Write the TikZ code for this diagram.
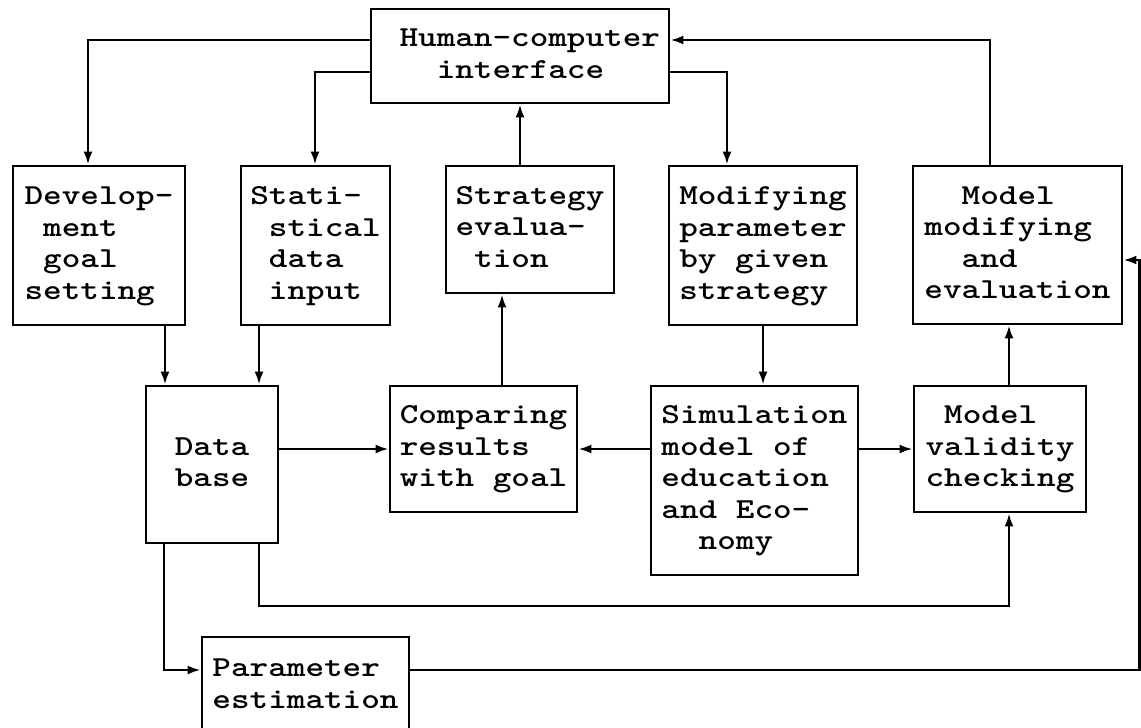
\documentclass[tikz,border=0pt]{standalone}
\usepackage{graphicx}
\usetikzlibrary{arrows.meta}
\newcommand{\txt}[1]{\scalebox{1.222}[1]{\begin{tabular}{@{}l@{}}#1\end{tabular}}}
\tikzset{
  box/.style={draw, line width=2.8pt, inner sep=0pt, align=left,
    font=\ttfamily\bfseries\fontsize{29}{31.5}\selectfont},
  arr/.style={line width=2.4pt, -{Latex[length=13pt,width=9pt]}},
}
\begin{document}
\begin{tikzpicture}[x=1pt,y=-1pt]
\useasboundingbox (0,0) rectangle (1141,728);
\fill[white] (0,0) rectangle (1141,728);
\clip (0,0) rectangle (1141,728);

\node[box, minimum width=298, minimum height=94] (hci) at (520,56)
  {\txt{\hspace*{16pt}Human-computer\\\hspace*{16pt}\hphantom{xx}interface}};
\node[box, minimum width=172, minimum height=159] (dev) at (99,245.5)
  {\txt{Develop-\\\hphantom{x}ment\\\hphantom{x}goal\\setting}};
\node[box, minimum width=149, minimum height=159] (stat) at (315.5,245.5)
  {\txt{Stati-\\\hphantom{x}stical\\\hphantom{x}data\\\hphantom{x}input}};
\node[box, minimum width=168, minimum height=127] (strat) at (530,229.5)
  {\txt{Strategy\\evalua-\\\hphantom{x}tion}};
\node[box, minimum width=188, minimum height=159] (modif) at (763,245.5)
  {\txt{Modifying\\parameter\\by given\\strategy}};
\node[box, minimum width=209, minimum height=158] (mm) at (1017.5,245)
  {\txt{\hphantom{xx}Model\\modifying\\\hphantom{xx}and\\evaluation}};
\node[box, minimum width=132, minimum height=157] (db) at (212,464.5)
  {\txt{Data\\base}};
\node[box, minimum width=187, minimum height=126] (comp) at (483.5,449)
  {\txt{Comparing\\results\\with goal}};
\node[box, minimum width=207, minimum height=189] (sim) at (754.5,480.5)
  {\txt{Simulation\\model of\\education\\and Eco-\\\hphantom{xx}nomy}};
\node[box, minimum width=172, minimum height=126] (mv) at (1000,449)
  {\txt{\hphantom{x}Model\\validity\\checking}};
\node[box, minimum width=207, minimum height=98] (pe) at (305.5,686)
  {\txt{Parameter\\estimation}};

\coordinate (k1) at (88,40);
\coordinate (k2) at (315,72);
\coordinate (k3) at (727,72);
\coordinate (k4) at (990,40);
\coordinate (k5) at (520,0);
\coordinate (k6) at (165,0);
\coordinate (k7) at (259,0);
\coordinate (k8) at (0,449);
\coordinate (k9) at (502,0);
\coordinate (k12) at (763,0);
\coordinate (k13) at (1009,0);
\coordinate (k14) at (259,606);
\coordinate (k15) at (164,670);
\coordinate (k16) at (1139.5,670);
\coordinate (k17) at (1139.5,260);

\draw[arr] (hci.west |- k1) -| (dev.north -| k1);
\draw[arr] (hci.west |- k2) -| (stat.north -| k2);
\draw[arr] (hci.east |- k3) -| (modif.north -| k3);
\draw[arr] (mm.north -| k4) |- (hci.east |- k4);
\draw[arr] (strat.north -| k5) -- (hci.south -| k5);
\draw[arr] (dev.south -| k6) -- (db.north -| k6);
\draw[arr] (stat.south -| k7) -- (db.north -| k7);
\draw[arr] (db.east |- k8) -- (comp.west |- k8);
\draw[arr] (comp.north -| k9) -- (strat.south -| k9);
\draw[arr] (sim.west |- k8) -- (comp.east |- k8);
\draw[arr] (sim.east |- k8) -- (mv.west |- k8);
\draw[arr] (modif.south -| k12) -- (sim.north -| k12);
\draw[arr] (mv.north -| k13) -- (mm.south -| k13);
\draw[arr] (db.south -| k14) -- (k14) -| (mv.south -| k13);
\draw[arr] (db.south -| k15) |- (pe.west |- k15);
\draw[arr] (pe.east |- k16) -- (k16) |- (mm.east |- k17);
\end{tikzpicture}
\end{document}
